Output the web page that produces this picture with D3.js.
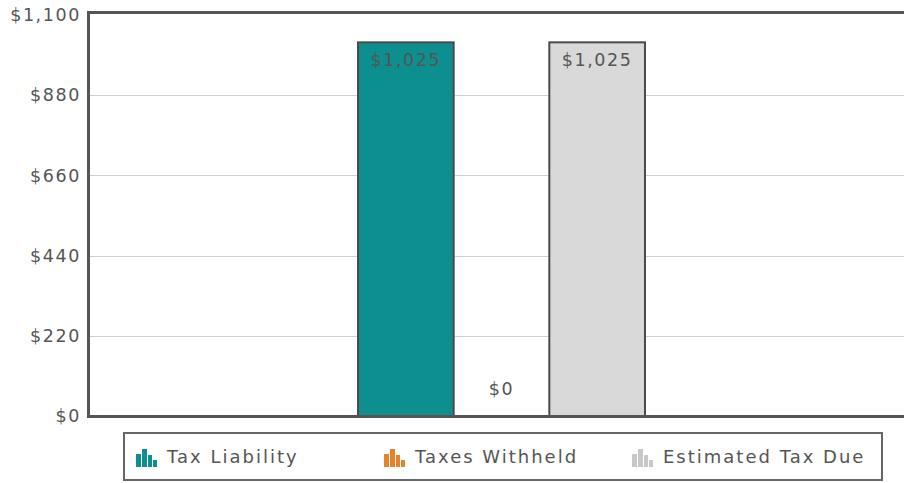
<!DOCTYPE html>
<html><head><meta charset="utf-8">
<script src="https://cdn.jsdelivr.net/npm/d3@7"></script>
<style>html,body{margin:0;padding:0;background:#fff;}svg{display:block;}</style>
</head><body>
<svg id="c" width="904" height="483"></svg>
<script>
const categories = [""];
const seriesNames = ["Tax Liability", "Taxes Withheld", "Estimated Tax Due"];
const seriesValues = [1025, 0, 1025];
const seriesColors = ["#0e8f8f", "#e8822a", "#d9d9d9"];
const tickValues = [0, 220, 440, 660, 880, 1100];
const tickLabels = ["$0", "$220", "$440", "$660", "$880", "$1,100"];
const valueLabels = ["$1,025", "$0", "$1,025"];

const svg = d3.select("#c");
const W = 904;
const m = {left: 90, top: 15, bottom: 416, right: 913};
const y = d3.scaleLinear().domain([0, 1100]).range([m.bottom, m.top]);
const x0 = d3.scaleBand().domain(categories).range([m.left, m.right]).paddingInner(0).paddingOuter(0.934);
const x1 = d3.scaleBand().domain(seriesNames).range([0, x0.bandwidth()]).padding(0);
const font = "'DejaVu Sans', Verdana, sans-serif";

// grid
svg.append("g").selectAll("line").data(tickValues.filter(v => v > 0 && v < 1100)).join("line")
  .attr("x1", m.left).attr("x2", W).attr("y1", d => Math.round(y(d)) + 0.5).attr("y2", d => Math.round(y(d)) + 0.5)
  .attr("stroke", "#cfcfcf").attr("stroke-width", 1);

// y axis labels
const yAxis = d3.axisLeft(y).tickValues(tickValues).tickFormat((d, i) => tickLabels[i]).tickSize(0).tickPadding(8);
const ga = svg.append("g").attr("transform", `translate(${m.left - 1},0)`).call(yAxis);
ga.select(".domain").remove();
ga.selectAll("text").attr("font-family", font).attr("font-size", 17.5).attr("fill", "#555")
  .attr("letter-spacing", 1.6);

// bars
const g = svg.append("g").attr("transform", `translate(${x0(categories[0])},0)`);
const data = seriesNames.map((s, i) => ({s, v: seriesValues[i], c: seriesColors[i], l: valueLabels[i]}));
g.selectAll("rect").data(data).join("rect")
  .attr("x", d => x1(d.s)).attr("width", x1.bandwidth())
  .attr("y", d => y(d.v)).attr("height", d => y(0) - y(d.v))
  .attr("fill", d => d.c).attr("stroke", "#4a4a4a").attr("stroke-width", 2);
g.selectAll("text").data(data).join("text")
  .attr("x", d => x1(d.s) + x1.bandwidth() / 2)
  .attr("y", d => d.v > 200 ? y(d.v) + 18 : y(d.v) - 27)
  .attr("dy", "0.35em").attr("text-anchor", "middle")
  .attr("font-family", font).attr("font-size", 17.5).attr("letter-spacing", 1.6).attr("fill", "#555")
  .text(d => d.l);

// frame
svg.append("line").attr("x1", m.left - 1.5).attr("x2", W).attr("y1", 12.5).attr("y2", 12.5).attr("stroke", "#555").attr("stroke-width", 3);
svg.append("line").attr("x1", m.left - 1.5).attr("x2", m.left - 1.5).attr("y1", 11).attr("y2", m.bottom + 2).attr("stroke", "#555").attr("stroke-width", 3);
svg.append("line").attr("x1", m.left - 3).attr("x2", W).attr("y1", m.bottom + 0.5).attr("y2", m.bottom + 0.5).attr("stroke", "#555").attr("stroke-width", 3);

// legend
const lg = svg.append("g");
lg.append("rect").attr("x", 124).attr("y", 433).attr("width", 758).attr("height", 47)
  .attr("fill", "#fff").attr("stroke", "#666").attr("stroke-width", 2);
const lx = [136, 384, 632];
const icon = [[0, 6, 5, 13], [6, 1, 5, 18], [12, 7, 4, 12], [17, 12, 4, 7]];
seriesNames.forEach((s, i) => {
  const ig = lg.append("g").attr("transform", `translate(${lx[i]},448)`);
  icon.forEach(b => ig.append("rect").attr("x", b[0]).attr("y", b[1]).attr("width", b[2]).attr("height", b[3]).attr("fill", seriesColors[i] === "#d9d9d9" ? "#c8c8c8" : seriesColors[i]));
  lg.append("text").attr("x", lx[i] + 31).attr("y", 457).attr("dy", "0.35em")
    .attr("font-family", font).attr("font-size", 18).attr("letter-spacing", 2.0).attr("fill", "#555").text(s);
});
</script>
</body></html>
